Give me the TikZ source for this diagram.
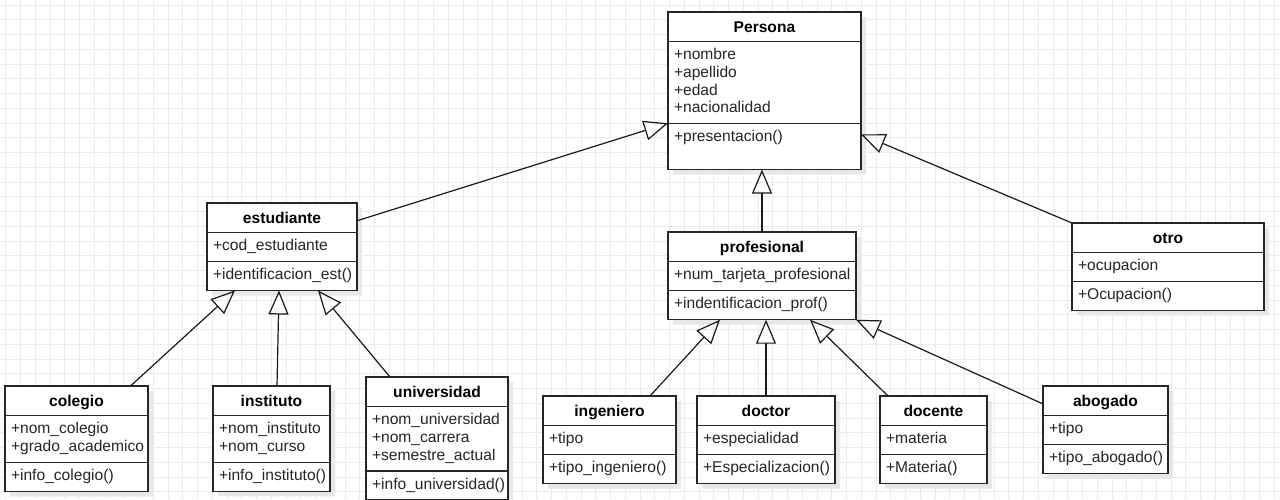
\documentclass[tikz,border=0pt]{standalone}
\usepackage{fontspec}
\setmainfont{Liberation Sans}
\usetikzlibrary{shapes.multipart,arrows.meta,shadows,positioning}

\tikzset{
  umlclass/.style={rectangle split, rectangle split parts=3, draw=black!85,
    line width=1.3pt, fill=white, anchor=north west, outer sep=0pt,
    inner xsep=6pt, inner ysep=5pt, align=left, text=black!85,
    font=\fontsize{15.6}{17.8}\selectfont,
    drop shadow={shadow xshift=5pt, shadow yshift=-5pt, fill=black!9, opacity=1}},
  inherit/.style={draw=black!90, line width=1.2pt,
    -{Triangle[open, length=24pt, width=20pt]}},
  gridline/.style={draw=black!8, line width=0.8pt}
}
\newcommand{\ctitle}[1]{\noindent\hbox to \hsize{\hss\rule[-3pt]{0pt}{18pt}\textcolor{black}{\textbf{#1}}\hss}}
\newcommand{\members}[1]{\strut#1\strut}

\begin{document}
\begin{tikzpicture}[x=1pt,y=-1pt]
        \useasboundingbox (0,0) rectangle (1280,499);
        % Draw the grid
        \foreach \gx in {5.8,20.55,...,1280}
          \draw[gridline] (\gx,0) -- (\gx,499);
        \foreach \gy in {5,19.75,...,499}
          \draw[gridline] (0,\gy) -- (1280,\gy);
        % Draw the base class
        \node[umlclass, text width=181pt] (persona) at (668,12)
          {\ctitle{Persona}
           \nodepart{second}\members{+nombre\\+apellido\\+edad\\+nacionalidad}
           \nodepart{third}\strut+presentacion()\rule[-22pt]{0pt}{22pt}};
        % Draw the second level
        \node[umlclass, text width=138pt] (estudiante) at (207,203)
          {\ctitle{estudiante}
           \nodepart{second}\members{+cod\_estudiante}
           \nodepart{third}\members{+identificacion\_est()}};
        \node[umlclass, text width=176pt] (profesional) at (668,232)
          {\ctitle{profesional}
           \nodepart{second}\members{+num\_tarjeta\_profesional}
           \nodepart{third}\members{+indentificacion\_prof()}};
        \node[umlclass, text width=180pt] (otro) at (1072,223)
          {\ctitle{otro}
           \nodepart{second}\members{+ocupacion}
           \nodepart{third}\members{+Ocupacion()}};
        % Draw the kinds of estudiante
        \node[umlclass, text width=131pt] (colegio) at (5,386)
          {\ctitle{colegio}
           \nodepart{second}\members{+nom\_colegio\\+grado\_academico}
           \nodepart{third}\members{+info\_colegio()}};
        \node[umlclass, text width=105pt] (instituto) at (213,386)
          {\ctitle{instituto}
           \nodepart{second}\members{+nom\_instituto\\+nom\_curso}
           \nodepart{third}\members{+info\_instituto()}};
        \node[umlclass, text width=130pt] (universidad) at (366,377)
          {\ctitle{universidad}
           \nodepart{second}\members{+nom\_universidad\\+nom\_carrera\\+semestre\_actual}
           \nodepart{third}\members{+info\_universidad()}};
        % Draw the kinds of profesional
        \node[umlclass, text width=121pt] (ingeniero) at (543,396)
          {\ctitle{ingeniero}
           \nodepart{second}\members{+tipo}
           \nodepart{third}\members{+tipo\_ingeniero()}};
        \node[umlclass, text width=126pt] (doctor) at (697,396)
          {\ctitle{doctor}
           \nodepart{second}\members{+especialidad}
           \nodepart{third}\members{+Especializacion()}};
        \node[umlclass, text width=95pt] (docente) at (880,396)
          {\ctitle{docente}
           \nodepart{second}\members{+materia}
           \nodepart{third}\members{+Materia()}};
        \node[umlclass, text width=113pt] (abogado) at (1043,386)
          {\ctitle{abogado}
           \nodepart{second}\members{+tipo}
           \nodepart{third}\members{+tipo\_abogado()}};
        % Draw the generalizations to Persona
        \draw[inherit] ([yshift=26pt]estudiante.east) -- ([yshift=-32.5pt]persona.west);
        \draw[inherit] (profesional.north) -- (profesional.north |- persona.south);
        \draw[inherit] (otro.north west) -- ([yshift=-43.5pt]persona.east);
        % Draw the generalizations to estudiante
        \draw[inherit] ([xshift=54pt]colegio.north) -- ([xshift=-47pt]estudiante.south);
        \draw[inherit] ([xshift=5.5pt]instituto.north) -- ([xshift=-3pt]estudiante.south);
        \draw[inherit] ([xshift=-47pt]universidad.north) -- ([xshift=36pt]estudiante.south);
        % Draw the generalizations to profesional
        \draw[inherit] ([xshift=40.5pt]ingeniero.north) -- ([xshift=-42pt]profesional.south);
        \draw[inherit] (doctor.north) -- (doctor.north |- profesional.south);
        \draw[inherit] ([xshift=-45.5pt]docente.north) -- ([xshift=48pt]profesional.south);
        \draw[inherit] ([yshift=26pt]abogado.west) -- (profesional.south east);
    \end{tikzpicture}
\end{document}
